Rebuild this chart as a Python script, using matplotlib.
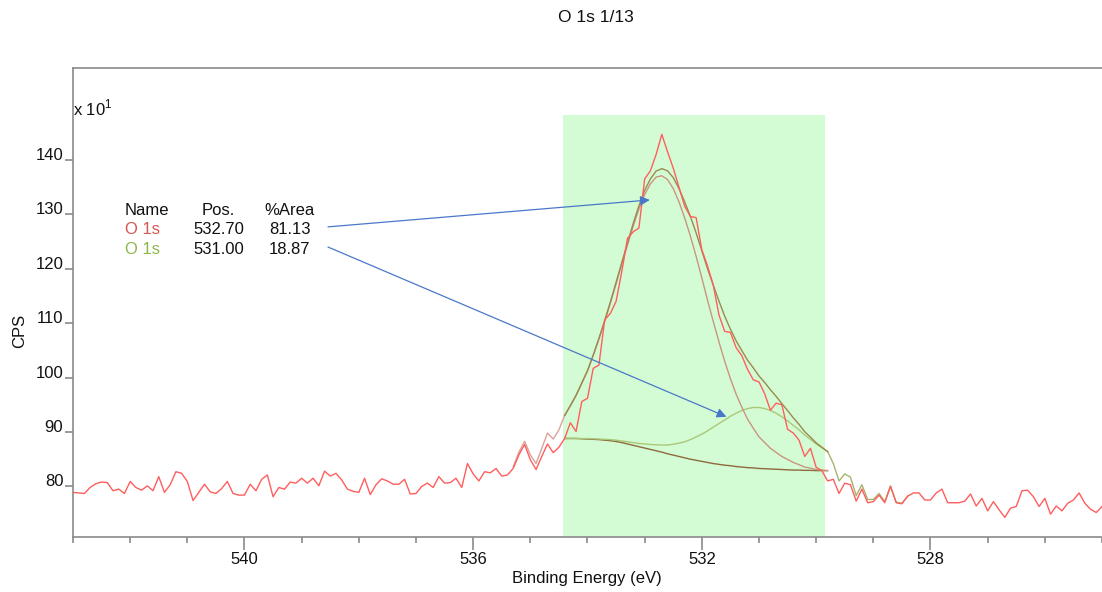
import matplotlib
matplotlib.use('Agg')
import matplotlib.pyplot as plt
import numpy as np
from matplotlib.ticker import MultipleLocator, FixedLocator

plt.rcParams['font.family'] = ['Liberation Sans', 'DejaVu Sans']
plt.rcParams['font.size'] = 12

###########################################################################
# data : CPS in units of 10, 0.1 eV steps from 543.0 down to 525.0

cps = np.array([
    78.9, 78.8, 78.7, 79.8, 80.5, 80.8, 80.7, 79.2, 79.5, 78.7,
    80.9, 79.8, 79.3, 80.1, 79.2, 81.8, 78.9, 80.3, 82.7, 82.4,
    80.9, 77.4, 78.9, 80.4, 79.0, 78.7, 79.6, 80.9, 78.7, 78.4,
    78.4, 80.4, 79.2, 81.3, 82.1, 78.1, 79.8, 79.5, 80.8, 80.6,
    81.5, 80.6, 81.5, 80.1, 82.8, 81.9, 82.4, 81.2, 79.5, 79.1,
    78.9, 81.5, 78.5, 80.3, 81.4, 81.0, 80.4, 80.4, 81.3, 78.6,
    78.7, 80.0, 80.6, 79.8, 81.8, 80.6, 80.7, 81.5, 79.8, 84.2,
    82.3, 81.0, 82.7, 82.5, 83.3, 81.9, 82.1, 83.3, 85.8, 87.7,
    84.9, 83.1, 85.5, 87.8, 86.2, 87.2, 88.8, 91.7, 90.1, 95.6,
    96.2, 101.7, 102.3, 110.6, 111.8, 114.0, 119.5, 125.6, 126.8, 127.5,
    136.5, 138.0, 141.0, 144.7, 141.5, 138.5, 135.0, 131.5, 129.6, 129.4,
    123.5, 120.5, 117.0, 111.5, 108.5, 108.3, 105.5, 104.0, 101.5, 99.6,
    99.2, 97.0, 94.0, 95.3, 95.0, 90.5, 89.8, 88.5, 85.5, 87.0,
    83.5, 82.9, 81.0, 81.3, 78.7, 80.6, 80.3, 77.3, 79.5, 77.0,
    77.2, 78.4, 77.0, 80.0, 77.0, 76.8, 78.2, 78.8, 78.8, 77.5,
    77.5, 78.8, 79.5, 77.0, 77.0, 77.0, 77.3, 78.6, 76.4, 77.8,
    75.5, 77.2, 75.7, 74.3, 76.0, 76.3, 79.2, 79.3, 78.1, 76.3,
    77.8, 74.9, 76.4, 75.5, 76.9, 77.5, 78.8, 76.9, 75.8, 75.2,
    76.3])
energy = np.round(np.linspace(543.0, 525.0, cps.size), 1)

# fit region (eV) and its components, 0.1 eV steps from 534.4 to 529.8
region_hi, region_lo, region_top = 534.43, 529.84, 148.3
background = np.array([
    88.8, 88.8, 88.8, 88.75, 88.7, 88.65, 88.6, 88.5, 88.4, 88.25,
    88.05, 87.8, 87.55, 87.3, 87.05, 86.8, 86.55, 86.3, 86.0, 85.75,
    85.5, 85.25, 85.0, 84.8, 84.6, 84.4, 84.2, 84.05, 83.9, 83.8,
    83.65, 83.55, 83.45, 83.4, 83.3, 83.25, 83.2, 83.15, 83.1, 83.05,
    83.0, 83.0, 82.95, 82.95, 82.9, 82.9, 82.9])
peak1 = np.array([
    93.0, 94.8, 96.7, 98.95, 101.2, 104.05, 107.1, 110.3, 113.7, 117.25,
    120.85, 124.4, 127.85, 131.0, 133.65, 135.6, 136.85, 137.1, 136.4, 134.75,
    132.3, 129.35, 126.0, 122.3, 118.3, 114.2, 110.3, 106.55, 103.0, 99.8,
    96.95, 94.55, 92.35, 90.7, 89.1, 88.05, 87.0, 86.25, 85.5, 84.95,
    84.4, 84.0, 83.55, 83.35, 83.1, 83.0, 82.9])
peak2 = np.array([
    88.85, 88.85, 88.85, 88.8, 88.8, 88.75, 88.7, 88.65, 88.6, 88.5,
    88.35, 88.2, 88.05, 87.9, 87.8, 87.7, 87.65, 87.6, 87.6, 87.75,
    87.95, 88.2, 88.6, 89.1, 89.6, 90.2, 90.9, 91.55, 92.2, 92.9,
    93.45, 93.95, 94.3, 94.5, 94.5, 94.3, 93.95, 93.45, 92.8, 92.05,
    91.2, 90.4, 89.45, 88.65, 87.8, 87.1, 86.4])
envelope = np.array([
    93.05, 94.85, 96.75, 99.0, 101.3, 104.15, 107.2, 110.45, 113.9, 117.5,
    121.15, 124.8, 128.35, 131.6, 134.4, 136.5, 137.95, 138.4, 138.0, 136.75,
    134.75, 132.3, 129.6, 126.6, 123.3, 120.0, 117.0, 114.05, 111.3, 108.9,
    106.75, 104.95, 103.2, 101.8, 100.3, 99.1, 97.75, 96.55, 95.2, 93.95,
    92.6, 91.4, 90.05, 89.05, 88.0, 87.2, 86.4])
fit_energy = np.round(np.linspace(534.4, 529.8, background.size), 1)

# component tails drawn on the data outside the region
tail_left = np.array([83.6, 86.3, 88.3, 85.8, 84.2, 87.0, 89.8, 88.7, 90.4, 93.05])
tail_left_energy = np.round(np.linspace(535.3, 534.4, tail_left.size), 1)
tail_right = np.array([86.4, 84.2, 81.0, 82.3, 81.7, 78.3, 80.3, 77.6, 77.6, 78.7,
                       77.2, 80.1, 77.1, 76.9, 78.2])
tail_right_energy = np.round(np.linspace(529.8, 528.4, tail_right.size), 1)

# peak table
comp_names = ['O 1s', 'O 1s']
comp_pos = ['532.70', '531.00']
comp_area = ['81.13', '18.87']
comp_colors = ['#d9534f', '#8cb54a']
# arrow targets (eV, CPS/10)
arrow_targets = [(532.91, 132.65), (531.57, 92.8)]

###########################################################################
# plot

fig = plt.figure(figsize=(11.02, 5.92), dpi=100)
ax = fig.add_axes([73/1102, 55/592, 1029/1102, 469/592])

ax.fill_between([region_hi, region_lo], 70.7, region_top, color='#d4fcd4', lw=0, zorder=0)

ax.plot(fit_energy, background, color='#8c6a3c', lw=1.0, zorder=2)
ax.plot(fit_energy, peak2, color='#a9c878', lw=1.0, zorder=2)
ax.plot(fit_energy, peak1, color='#c8957f', lw=1.0, zorder=2)
ax.plot(tail_left_energy, tail_left, color='#dba39a', lw=1.0, zorder=2)
ax.plot(tail_right_energy, tail_right, color='#a7b46c', lw=1.0, zorder=2)
ax.plot(fit_energy, envelope, color='#9a8a4e', lw=1.0, zorder=3)
ax.plot(energy, cps, color='#ff5e5e', lw=1.0, zorder=4)

ax.set_xlim(543.0, 525.0)
ax.set_ylim(70.7, 156.9)

# table of components
ax.text(542.09, 130.8, 'Name', ha='left', va='center', color='#111')
ax.text(540.745, 130.8, 'Pos.', ha='left', va='center', color='#111')
ax.text(539.66, 130.8, '%Area', ha='left', va='center', color='#111')
row_y = [127.2, 123.5]
for i in range(len(comp_names)):
    ax.text(542.09, row_y[i], comp_names[i], ha='left', va='center', color=comp_colors[i])
    ax.text(540.90, row_y[i], comp_pos[i], ha='left', va='center', color='#111')
    ax.text(539.57, row_y[i], comp_area[i], ha='left', va='center', color='#111')
    ax.annotate('', xy=arrow_targets[i], xytext=(538.54, row_y[i] + 0.5),
                arrowprops=dict(arrowstyle='-|>', color='#4a78c8', lw=0.9,
                                mutation_scale=14, shrinkA=0, shrinkB=0), zorder=5)

ax.text(0.0, (537-108)/469, r'x 10$^{\mathregular{1}}$', transform=ax.transAxes,
        ha='left', va='center', color='#111')

# axes style
for side in ['left', 'bottom', 'top']:
    ax.spines[side].set_color('#8a8a8a')
    ax.spines[side].set_linewidth(1.2)
ax.spines['right'].set_visible(False)

ax.xaxis.set_major_locator(MultipleLocator(4))
ax.xaxis.set_minor_locator(MultipleLocator(1))
ax.yaxis.set_major_locator(FixedLocator([80, 90, 100, 110, 120, 130, 140]))
ax.tick_params(axis='x', which='major', length=9, width=1.2, color='#8a8a8a',
               pad=1.5, labelcolor='#111')
ax.tick_params(axis='x', which='minor', length=4.5, width=1.2, color='#8a8a8a')
ax.tick_params(axis='y', which='major', length=5.5, width=1.2, color='#8a8a8a',
               pad=1.5, labelcolor='#111')
for lbl in ax.get_yticklabels():
    lbl.set_va('baseline')

fig.text(596/1102, 1-18/592, 'O 1s 1/13', ha='center', va='center', fontsize=12.5, color='#111')
fig.text(587/1102, 1-578/592, 'Binding Energy (eV)', ha='center', va='center', color='#111')
fig.text(20/1102, 1-331/592, 'CPS', rotation=90, ha='center', va='center', color='#111')

fig.savefig('out.png', dpi=100)
